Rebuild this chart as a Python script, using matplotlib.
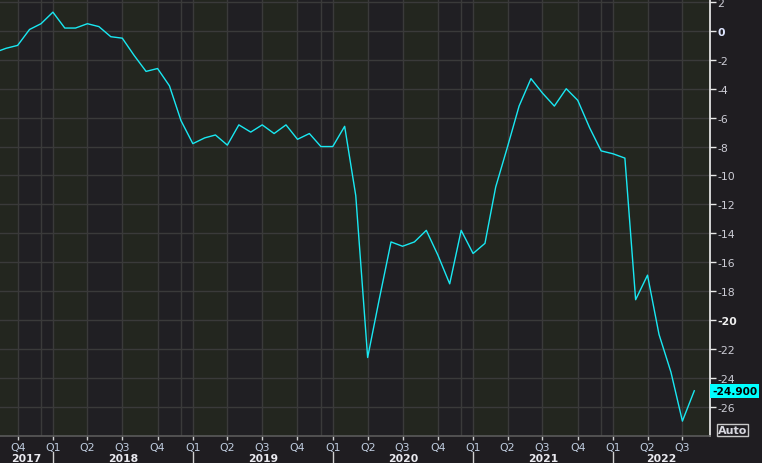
"""Euro area consumer confidence, Bloomberg-style dark chart."""

from matplotlib import pyplot
import matplotlib.transforms as mtransforms
import pandas

# Monthly values, Aug 2017 .. Aug 2022
start_month = '2017-08-01'
values = [
    -1.5, -1.2, -1.0, 0.1, 0.5,
    1.3, 0.2, 0.2, 0.5, 0.3, -0.4, -0.5, -1.7, -2.8, -2.6, -3.8, -6.2,
    -7.8, -7.4, -7.2, -7.9, -6.5, -7.0, -6.5, -7.1, -6.5, -7.5, -7.1, -8.0,
    -8.0, -6.6, -11.4, -22.6, -18.6, -14.6, -14.9, -14.6, -13.8, -15.5, -17.5, -13.8,
    -15.4, -14.7, -10.8, -8.0, -5.2, -3.3, -4.3, -5.2, -4.0, -4.8, -6.7, -8.3,
    -8.5, -8.8, -18.6, -16.9, -21.0, -23.6, -27.0, -24.9,
]
last_label = '-24.900'
yticks = list(range(2, -28, -2))
bold_yticks = [0, -20]
years = [2017, 2018, 2019, 2020, 2021, 2022]

dates = pandas.date_range(start=start_month, periods=len(values), freq='MS')
xmin = pandas.Timestamp('2017-08-16')
xmax = pandas.Timestamp('2022-09-11')

bg = '#1f1d21'
band_a = '#23261f'
band_b = '#201f23'
grid = '#3a3a3a'
cyan = '#19e8f2'

pyplot.rc('font', family='DejaVu Sans', size=7.8)
fig = pyplot.figure(figsize=(7.62, 4.64), dpi=100, facecolor=bg)
ax = fig.add_axes([0.0, 27 / 464, 710 / 762, 437 / 464])
ax.set_facecolor(band_b)

# alternating quarter shading (Q1 and Q3 lighter)
qstarts = pandas.date_range('2017-07-01', '2022-10-01', freq='QS')
for q0, q1 in zip(qstarts[:-1], qstarts[1:]):
    col = band_a if q0.month in (1, 7) else band_b
    ax.axvspan(q0, q1, color=col, zorder=0, linewidth=0)

# grid
for y in yticks:
    ax.axhline(y, color=grid, linewidth=1, zorder=1)
qticks = pandas.date_range('2017-10-01', '2022-07-01', freq='QS')
for d in qticks:
    ax.axvline(d, color=grid, linewidth=1, zorder=1)
for d in pandas.date_range('2017-12-01', '2021-12-01', freq='12MS'):
    ax.axvline(d, color=grid, linewidth=1, zorder=1)

ax.plot(dates, values, color=cyan, linewidth=1.0, zorder=3)

ax.set_xlim(xmin, xmax)
ax.set_ylim(-28.03, 2.21)

# y axis on the right
ax.yaxis.tick_right()
ax.set_yticks(yticks)
ax.set_yticklabels([str(v) for v in yticks])
ax.tick_params(axis='y', direction='out', length=4, width=1, colors='#e8e8e8',
               labelcolor='#cdcdd6', pad=1.5)
for lab, v in zip(ax.get_yticklabels(), yticks):
    if v in bold_yticks:
        lab.set_fontweight('bold')
        lab.set_color('#dfe6ff' if v == 0 else '#eeeeee')

# x axis: quarters
ax.set_xticks(qticks)
ax.set_xticklabels([f'Q{(d.month - 1) // 3 + 1}' for d in qticks])
ax.tick_params(axis='x', direction='out', length=3, width=1, colors='#d0d0d0',
               labelcolor='#c0cde0', pad=1.5)

for side in ('top', 'left'):
    ax.spines[side].set_visible(False)
ax.spines['right'].set_color('#f2f2f2')
ax.spines['right'].set_linewidth(1.2)
ax.spines['bottom'].set_color('#5a5a5a')
ax.spines['bottom'].set_linewidth(1.2)

# year labels and separators
trans = mtransforms.blended_transform_factory(ax.transData, fig.transFigure)
for yr in years:
    a = max(pandas.Timestamp(f'{yr}-01-01'), xmin)
    b = min(pandas.Timestamp(f'{yr + 1}-01-01'), xmax)
    mid = a + (b - a) / 2
    ax.text(mid, 10 / 464, str(yr), transform=trans, ha='center', va='top',
            fontweight='bold', fontsize=7.8, color='#eaeaf0', clip_on=False)
    if yr > years[0]:
        ax.plot([a, a], [0, 11 / 464], transform=trans, color='#cfcfcf',
                linewidth=1, clip_on=False)

# last value tag
ax.annotate(last_label, xy=(1.0, values[-1]),
            xycoords=('axes fraction', 'data'), xytext=(1.5, 0),
            textcoords='offset points', ha='left', va='center',
            fontweight='bold', fontsize=7.6, color='black',
            bbox=dict(boxstyle='square,pad=0.2', facecolor='#00ffff',
                      edgecolor='none'), annotation_clip=False)

fig.text(718 / 762, (464 - 431) / 464, 'Auto', ha='left', va='center',
         fontweight='bold', fontsize=8, color='#d8d8e0',
         bbox=dict(boxstyle='square,pad=0.1', facecolor='none',
                   edgecolor='#c8c8c8', linewidth=1))

fig.savefig('out.png', dpi=100, facecolor=bg)
